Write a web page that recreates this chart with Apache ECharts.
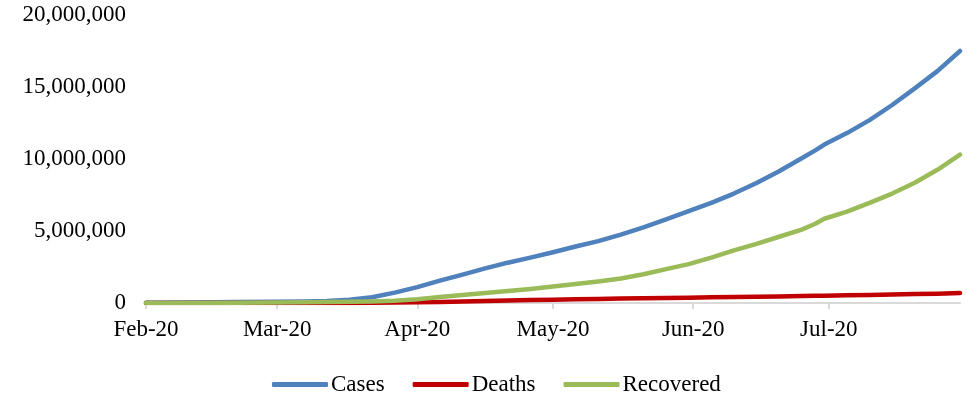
<!DOCTYPE html>
<html>
<head>
<meta charset="utf-8">
<script src="https://cdn.jsdelivr.net/npm/echarts@6/dist/echarts.min.js"></script>
<style>
  html, body { margin: 0; padding: 0; background: #fff; }
  #chart { width: 977px; height: 400px; }
</style>
</head>
<body>
<div id="chart"></div>
<script>
// sample dates (every ~5 days)
var sampleDates = [
  '2020-02-01', '2020-02-11', '2020-02-21', '2020-03-01', '2020-03-07', '2020-03-12',
  '2020-03-17', '2020-03-22', '2020-03-27', '2020-04-01', '2020-04-06', '2020-04-11',
  '2020-04-16', '2020-04-21', '2020-04-26', '2020-05-01', '2020-05-06', '2020-05-11',
  '2020-05-16', '2020-05-21', '2020-05-26', '2020-05-31', '2020-06-05', '2020-06-10',
  '2020-06-15', '2020-06-20', '2020-06-25', '2020-06-28', '2020-06-30', '2020-07-05',
  '2020-07-10', '2020-07-15', '2020-07-20', '2020-07-25', '2020-07-30'
];
var cases = [
  10000, 40000, 75000, 90000, 110000, 140000,
  220000, 400000, 720000, 1100000, 1550000, 1970000,
  2400000, 2800000, 3150000, 3520000, 3920000, 4300000,
  4750000, 5250000, 5800000, 6380000, 6950000, 7600000,
  8330000, 9150000, 10050000, 10600000, 11000000, 11800000,
  12700000, 13750000, 14900000, 16100000, 17500000
];
var deaths = [
  300, 1000, 2200, 3000, 3500, 5000,
  8000, 15000, 27000, 47000, 75000, 100000,
  140000, 170000, 200000, 230000, 260000, 280000,
  310000, 330000, 350000, 370000, 400000, 420000,
  440000, 460000, 490000, 500000, 510000, 530000,
  560000, 590000, 620000, 650000, 690000
];
var recovered = [
  0, 1000, 18000, 42000, 55000, 65000,
  80000, 100000, 150000, 260000, 410000, 550000,
  700000, 830000, 980000, 1150000, 1320000, 1500000,
  1700000, 2000000, 2350000, 2700000, 3150000, 3650000,
  4100000, 4600000, 5100000, 5500000, 5850000, 6350000,
  6950000, 7600000, 8350000, 9250000, 10300000
];
var yTicks = [0, 5000000, 10000000, 15000000, 20000000];
var monthNames = ['Jan', 'Feb', 'Mar', 'Apr', 'May', 'Jun', 'Jul', 'Aug', 'Sep', 'Oct', 'Nov', 'Dec'];

// daily categories Feb 1 .. Jul 30
var days = [];
var d = new Date(Date.UTC(2020, 1, 1));
var end = new Date(Date.UTC(2020, 6, 30));
while (d <= end) {
  days.push(d.toISOString().slice(0, 10));
  d = new Date(d.getTime() + 86400000);
}

function pairs(vals) {
  return sampleDates.map(function (s, i) { return [s, vals[i]]; });
}
function isMonthStart(idx, val) {
  return val.slice(8, 10) === '01';
}

var font = "'Liberation Serif', 'Times New Roman', serif";
var chart = echarts.init(document.getElementById('chart'));
chart.setOption({
  animation: false,
  textStyle: { fontFamily: font },
  grid: { left: 146, right: 17, top: 15, bottom: 97 },
  legend: {
    left: 267,
    top: 368,
    icon: 'roundRect',
    itemWidth: 56,
    itemHeight: 5,
    itemGap: 28,
    textStyle: { fontFamily: font, fontSize: 23, color: '#000', padding: [0, 0, 0, -2] },
    data: ['Cases', 'Deaths', 'Recovered']
  },
  xAxis: {
    type: 'category',
    boundaryGap: false,
    data: days,
    axisLine: { lineStyle: { color: '#d9d9d9', width: 2 } },
    axisTick: { interval: isMonthStart, length: 6, lineStyle: { color: '#d9d9d9', width: 2 } },
    axisLabel: {
      interval: isMonthStart,
      margin: 15,
      fontFamily: font,
      fontSize: 23,
      color: '#000',
      formatter: function (v) { return monthNames[+v.slice(5, 7) - 1] + '-20'; }
    },
    splitLine: { show: false }
  },
  yAxis: {
    type: 'value',
    min: yTicks[0],
    max: yTicks[yTicks.length - 1],
    interval: yTicks[1] - yTicks[0],
    axisLine: { show: false },
    axisTick: { show: false },
    splitLine: { show: false },
    axisLabel: {
      margin: 20,
      fontFamily: font,
      fontSize: 23,
      color: '#000',
      formatter: function (v) { return v.toLocaleString('en-US'); }
    }
  },
  series: [
    { name: 'Cases', type: 'line', data: pairs(cases), symbol: 'none',
      lineStyle: { color: '#4F81BD', width: 4.5, cap: 'round', join: 'round' }, itemStyle: { color: '#4F81BD' } },
    { name: 'Deaths', type: 'line', data: pairs(deaths), symbol: 'none',
      lineStyle: { color: '#C00000', width: 4.5, cap: 'round', join: 'round' }, itemStyle: { color: '#C00000' } },
    { name: 'Recovered', type: 'line', data: pairs(recovered), symbol: 'none',
      lineStyle: { color: '#9BBB59', width: 4.5, cap: 'round', join: 'round' }, itemStyle: { color: '#9BBB59' } }
  ]
});
</script>
</body>
</html>
